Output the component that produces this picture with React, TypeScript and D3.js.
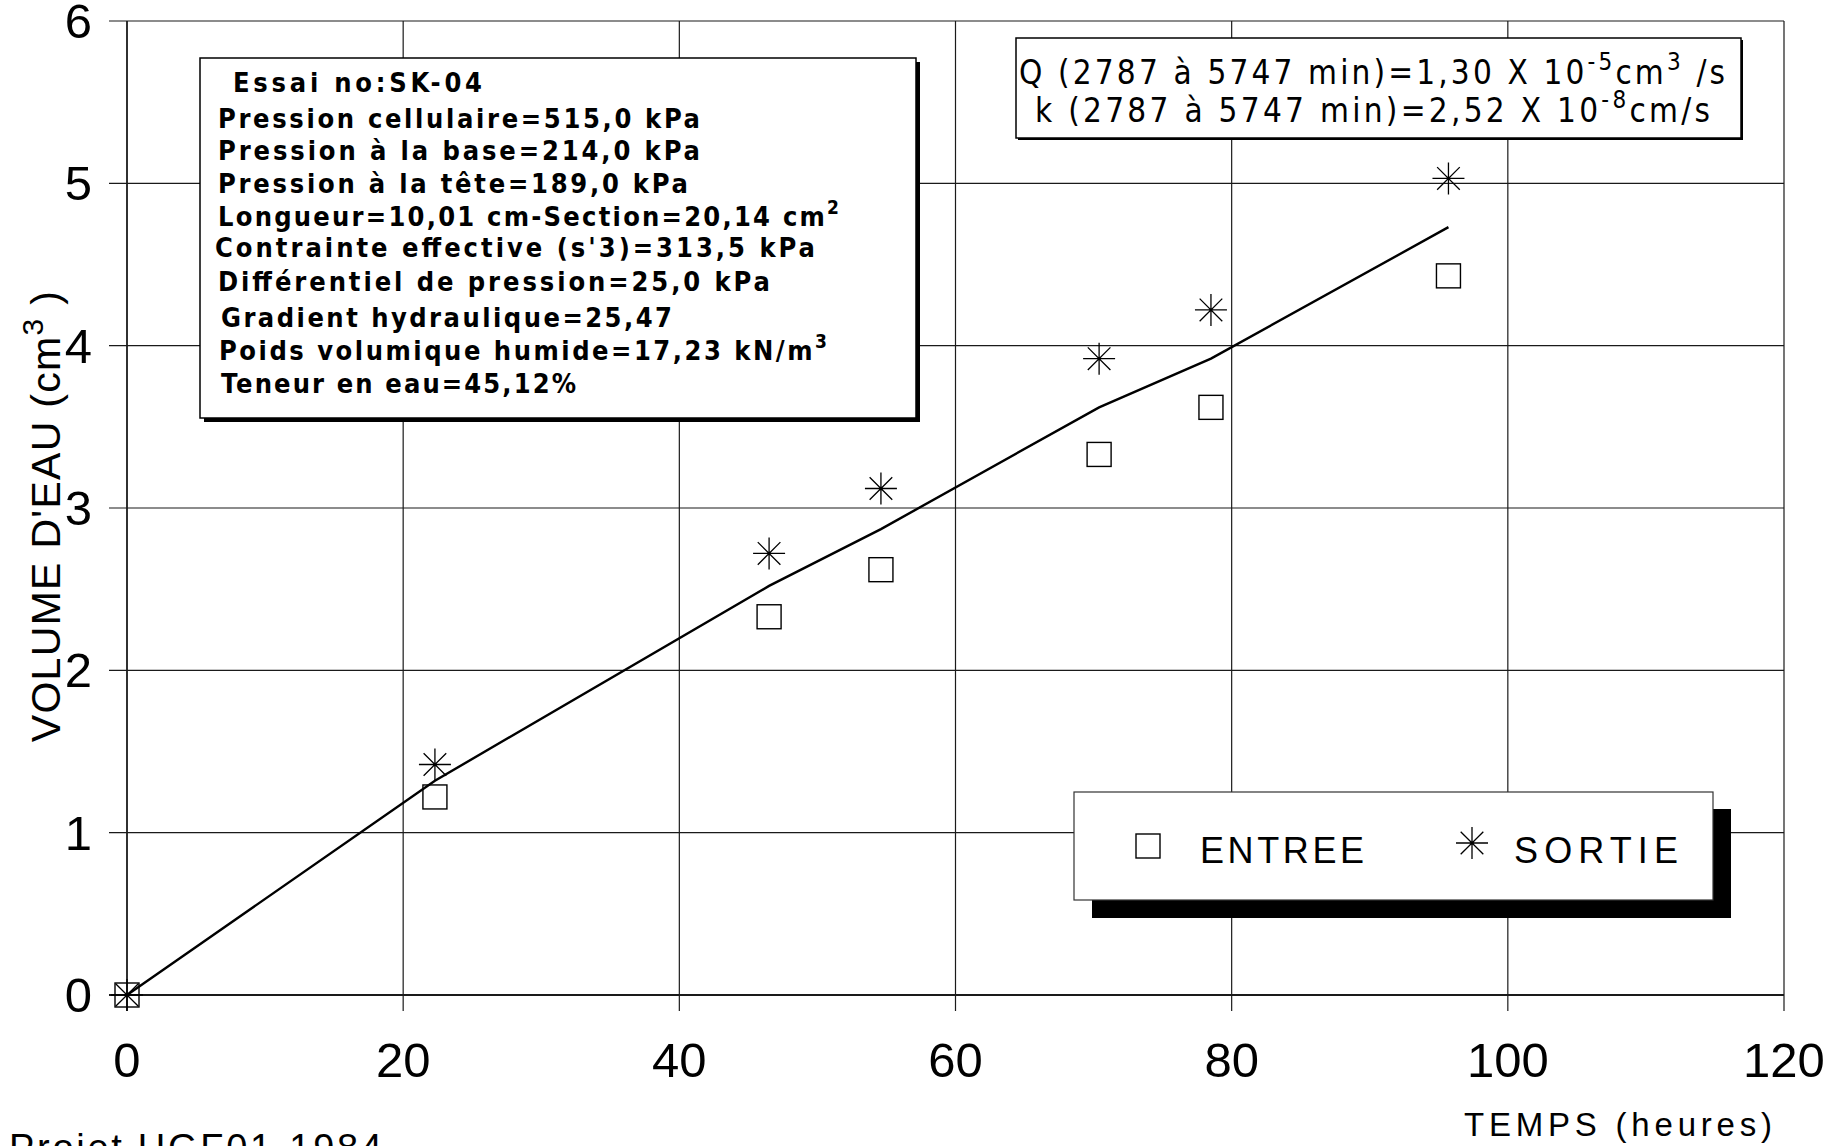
import React, { useEffect, useRef } from "react";
import * as d3 from "d3";

// temps (heures) of each reading
const hours = [0, 22.3, 46.5, 54.6, 70.4, 78.5, 95.7];
// volume d'eau (cm3)
const entree = [0, 1.22, 2.33, 2.62, 3.33, 3.62, 4.43];
const sortie = [0, 1.42, 2.72, 3.12, 3.92, 4.22, 5.03];
const moyenne = [0, 1.32, 2.52, 2.87, 3.62, 3.92, 4.73];

const xTicks = [0, 20, 40, 60, 80, 100, 120];
const yTicks = [0, 1, 2, 3, 4, 5, 6];

const legendNames = ["ENTREE", "SORTIE"];
const xTitle = "TEMPS (heures)";
const footer = "Projet UGF01-1984";

// [text, superscript]
const infoLines = [
  ["Essai no:SK-04", ""],
  ["Pression cellulaire=515,0 kPa", ""],
  ["Pression à la base=214,0 kPa", ""],
  ["Pression à la tête=189,0 kPa", ""],
  ["Longueur=10,01 cm-Section=20,14 cm", "2"],
  ["Contrainte effective (s'3)=313,5 kPa", ""],
  ["Différentiel de pression=25,0 kPa", ""],
  ["Gradient hydraulique=25,47", ""],
  ["Poids volumique humide=17,23 kN/m", "3"],
  ["Teneur en eau=45,12%", ""],
];

// pieces of each line, true = superscript
const fluxLines = [
  [["Q (2787 à 5747 min)=1,30 X 10", false], ["-5", true], ["cm", false], ["3", true], [" /s", false]],
  [["k (2787 à 5747 min)=2,52 X 10", false], ["-8", true], ["cm/s", false]],
];

const FONT = "'Liberation Sans', Arial, Helvetica, sans-serif";
const NARROW = "'Liberation Sans Narrow', 'Arial Narrow', 'DejaVu Sans Condensed', 'Liberation Sans', sans-serif";

// layout of the info box lines: x start, baseline, width
const infoLayout = [
  [233, 92, 249],
  [218, 128, 482],
  [218, 160, 482],
  [218, 193, 470],
  [218, 226, 621],
  [215, 257, 600],
  [218, 291, 552],
  [221, 327, 451],
  [219, 360, 608],
  [221, 393, 355],
];
const fluxLayout = [
  [1019, 84, 706],
  [1035, 122, 675],
];

const Chart = () => {
  const ref = useRef(null);

  useEffect(() => {
    draw();
  }, []);

  const draw = () => {
    const width = 1843;
    const height = 1146;

    const svg = d3.select(ref.current);
    svg.selectAll("*").remove();
    svg.attr("width", width).attr("height", height);

    svg.append("rect").attr("width", width).attr("height", height).attr("fill", "white");

    const x = d3.scaleLinear().domain([0, 120]).range([127, 1784]);
    const y = d3.scaleLinear().domain([0, 6]).range([995, 21]);

    // grid
    const grid = svg.append("g").attr("stroke", "#1a1a1a");
    grid
      .selectAll(".v")
      .data(xTicks)
      .join("line")
      .attr("x1", (d) => x(d))
      .attr("x2", (d) => x(d))
      .attr("y1", y(6))
      .attr("y2", y(0) + 16)
      .attr("stroke-width", (d) => (d === 0 ? 1.8 : 1.2));
    grid
      .selectAll(".h")
      .data(yTicks)
      .join("line")
      .attr("x1", x(0) - 18)
      .attr("x2", x(120))
      .attr("y1", (d) => y(d))
      .attr("y2", (d) => y(d))
      .attr("stroke-width", (d) => (d === 0 ? 2 : 1.2));

    // tick labels
    svg
      .append("g")
      .selectAll("text")
      .data(xTicks)
      .join("text")
      .attr("x", (d) => x(d))
      .attr("y", 1077)
      .attr("text-anchor", "middle")
      .attr("font-family", FONT)
      .attr("font-size", 49)
      .text((d) => d);
    svg
      .append("g")
      .selectAll("text")
      .data(yTicks)
      .join("text")
      .attr("x", 92)
      .attr("y", (d) => y(d) + 17)
      .attr("text-anchor", "end")
      .attr("font-family", FONT)
      .attr("font-size", 49)
      .text((d) => d);

    // y title
    const yt = svg
      .append("text")
      .attr("transform", "translate(60,516) rotate(-90)")
      .attr("text-anchor", "middle")
      .attr("font-family", FONT)
      .attr("font-size", 41)
      .attr("letter-spacing", 1.3)
      .style("white-space", "pre");
    yt.append("tspan").text("VOLUME D'EAU (cm");
    yt.append("tspan").attr("dy", -17).attr("font-size", 30).text("3");
    yt.append("tspan").attr("dy", 17).text(" )");

    // x title and footer
    svg
      .append("text")
      .attr("x", 1464)
      .attr("y", 1136)
      .attr("font-family", FONT)
      .attr("font-size", 33)
      .attr("textLength", 308)
      .attr("lengthAdjust", "spacing")
      .text(xTitle);
    svg
      .append("text")
      .attr("x", 9)
      .attr("y", 1161)
      .attr("font-family", FONT)
      .attr("font-size", 38)
      .attr("textLength", 373)
      .attr("lengthAdjust", "spacing")
      .text(footer);

    // info box
    svg.append("rect").attr("x", 204).attr("y", 62).attr("width", 716).attr("height", 360).attr("fill", "black");
    svg
      .append("rect")
      .attr("x", 200)
      .attr("y", 58)
      .attr("width", 716)
      .attr("height", 360)
      .attr("fill", "white")
      .attr("stroke", "black")
      .attr("stroke-width", 1.5);
    infoLines.forEach(([txt, sup], i) => {
      const [lx, ly, lw] = infoLayout[i];
      const t = svg
        .append("text")
        .attr("x", lx)
        .attr("y", ly)
        .attr("font-family", NARROW)
        .attr("font-size", 27)
        .attr("font-weight", "bold")
        .attr("textLength", lw)
        .attr("lengthAdjust", "spacing")
        .style("white-space", "pre");
      t.append("tspan").text(txt);
      if (sup) t.append("tspan").attr("dy", -12).attr("font-size", 19).text(sup);
    });

    // flux box
    svg.append("rect").attr("x", 1018).attr("y", 40).attr("width", 725).attr("height", 100).attr("fill", "black");
    svg
      .append("rect")
      .attr("x", 1016)
      .attr("y", 38)
      .attr("width", 725)
      .attr("height", 100)
      .attr("fill", "white")
      .attr("stroke", "black")
      .attr("stroke-width", 1.5);
    fluxLines.forEach((parts, i) => {
      const [lx, ly, lw] = fluxLayout[i];
      const t = svg
        .append("text")
        .attr("x", lx)
        .attr("y", ly)
        .attr("font-family", NARROW)
        .attr("font-size", 33)
        .attr("textLength", lw)
        .attr("lengthAdjust", "spacing")
        .style("white-space", "pre");
      let up = false;
      parts.forEach(([s, sup]) => {
        const ts = t.append("tspan").text(s);
        if (sup && !up) ts.attr("dy", -14).attr("font-size", 24);
        else if (sup) ts.attr("font-size", 24);
        else if (up) ts.attr("dy", 14);
        up = sup;
      });
    });

    // legend
    svg.append("rect").attr("x", 1092).attr("y", 809).attr("width", 639).attr("height", 109).attr("fill", "black");
    svg
      .append("rect")
      .attr("x", 1074)
      .attr("y", 792)
      .attr("width", 639)
      .attr("height", 108)
      .attr("fill", "white")
      .attr("stroke", "#333")
      .attr("stroke-width", 1.2);

    const square = (g, cx, cy) =>
      g
        .append("rect")
        .attr("x", cx - 12)
        .attr("y", cy - 12)
        .attr("width", 24)
        .attr("height", 24)
        .attr("fill", "none")
        .attr("stroke", "black")
        .attr("stroke-width", 1.4);
    const star = (g, cx, cy, r) => {
      const d = r * Math.SQRT1_2;
      const path = d3.path();
      path.moveTo(cx - r, cy);
      path.lineTo(cx + r, cy);
      path.moveTo(cx, cy - r);
      path.lineTo(cx, cy + r);
      path.moveTo(cx - d, cy - d);
      path.lineTo(cx + d, cy + d);
      path.moveTo(cx - d, cy + d);
      path.lineTo(cx + d, cy - d);
      g.append("path").attr("d", path.toString()).attr("stroke", "black").attr("stroke-width", 1.3).attr("fill", "none");
    };

    const leg = svg.append("g");
    square(leg, 1148, 846);
    star(leg, 1472, 843, 16);
    [1200, 1514].forEach((lx, i) => {
      leg
        .append("text")
        .attr("x", lx)
        .attr("y", 863)
        .attr("font-family", FONT)
        .attr("font-size", 36)
        .attr("textLength", 164)
        .attr("lengthAdjust", "spacing")
        .text(legendNames[i]);
    });

    // fitted line
    const line = d3
      .line()
      .x((d, i) => x(hours[i]))
      .y((d) => y(d));
    svg
      .append("path")
      .datum(moyenne)
      .attr("fill", "none")
      .attr("stroke", "black")
      .attr("stroke-width", 2.4)
      .attr("d", line);

    // points
    const pts = svg.append("g");
    entree.forEach((v, i) => square(pts, x(hours[i]), y(v)));
    sortie.forEach((v, i) => star(pts, x(hours[i]), y(v), 16));
  };

  return <svg ref={ref} style={{ position: "absolute", left: 0, top: 0, display: "block" }}></svg>;
};

export default function App() {
  return <Chart />;
}
